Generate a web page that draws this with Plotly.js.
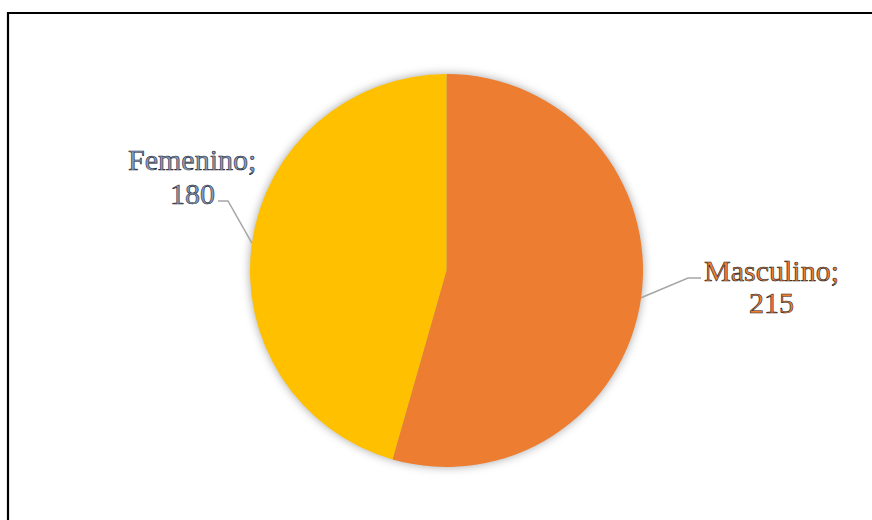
<!DOCTYPE html>
<html>
<head>
<meta charset="utf-8">
<script src="https://cdn.plot.ly/plotly-3.0.1.min.js"></script>
<style>
html,body{margin:0;padding:0;background:#fff;}
#chart{width:872px;height:520px;}
.pielayer{filter:drop-shadow(0 0 5px rgba(0,0,0,0.35));}
.annotation-text{stroke:#1a1f2c;stroke-width:0.6px;}
</style>
</head>
<body>
<div id="chart"></div>
<script>
const categories = ["Masculino", "Femenino"];
const values = [215, 180];
const sliceColors = ["#ED7D31", "#FFC000"];
const labelFill = ["#ED7D31", "#879CC4"];

const W = 872, H = 520;
const cx = 446.5, cy = 270.5, R = 196.5;
const dom = {x: [(cx - R) / W, (cx + R) / W], y: [1 - (cy + R) / H, 1 - (cy - R) / H]};

// leader lines from slice mid-angles
const total = values.reduce((a, b) => a + b, 0);
let acc = 0;
const mids = values.map(v => { const m = (acc + v / 2) / total * 360; acc += v; return m; });
const labelPos = [{x: 771, y1: 270, y2: 302, elbowX: 688, endX: 701, lineY: 278},
                  {x: 192, y1: 159, y2: 193, elbowX: 228, endX: 218, lineY: 201}];
const px = x => x / W, py = y => 1 - y / H;

const shapes = [{
  type: 'rect', xref: 'paper', yref: 'paper',
  x0: px(8), x1: 1.05, y0: -0.05, y1: py(13),
  line: {color: '#000', width: 2.2}, fillcolor: 'rgba(0,0,0,0)'
}];
const annotations = [];
categories.forEach((c, i) => {
  const a = mids[i] * Math.PI / 180;
  const sx = cx + R * Math.sin(a), sy = cy - R * Math.cos(a);
  const lp = labelPos[i];
  shapes.push({
    type: 'path', xref: 'paper', yref: 'paper',
    path: `M ${px(sx)} ${py(sy)} L ${px(lp.elbowX)} ${py(lp.lineY)} L ${px(lp.endX)} ${py(lp.lineY)}`,
    line: {color: '#A6A6A6', width: 1.5}
  });
  const font = {family: '"Liberation Serif", "Times New Roman", serif', size: 30, color: labelFill[i]};
  annotations.push({
    xref: 'paper', yref: 'paper', x: px(lp.x), y: py(lp.y1),
    xanchor: 'center', yanchor: 'middle', showarrow: false,
    text: `${c};`, font: font
  });
  annotations.push({
    xref: 'paper', yref: 'paper', x: px(lp.x), y: py(lp.y2),
    xanchor: 'center', yanchor: 'middle', showarrow: false,
    text: `${values[i]}`, font: font
  });
});

const data = [{
  type: 'pie',
  labels: categories,
  values: values,
  marker: {colors: sliceColors, line: {width: 0}},
  sort: false,
  direction: 'clockwise',
  rotation: 0,
  textinfo: 'none',
  hoverinfo: 'label+value',
  domain: dom
}];

const layout = {
  width: W, height: H,
  margin: {l: 0, r: 0, t: 0, b: 0},
  paper_bgcolor: '#fff',
  showlegend: false,
  shapes: shapes,
  annotations: annotations
};

Plotly.newPlot('chart', data, layout, {displayModeBar: false, staticPlot: true});
</script>
</body>
</html>
